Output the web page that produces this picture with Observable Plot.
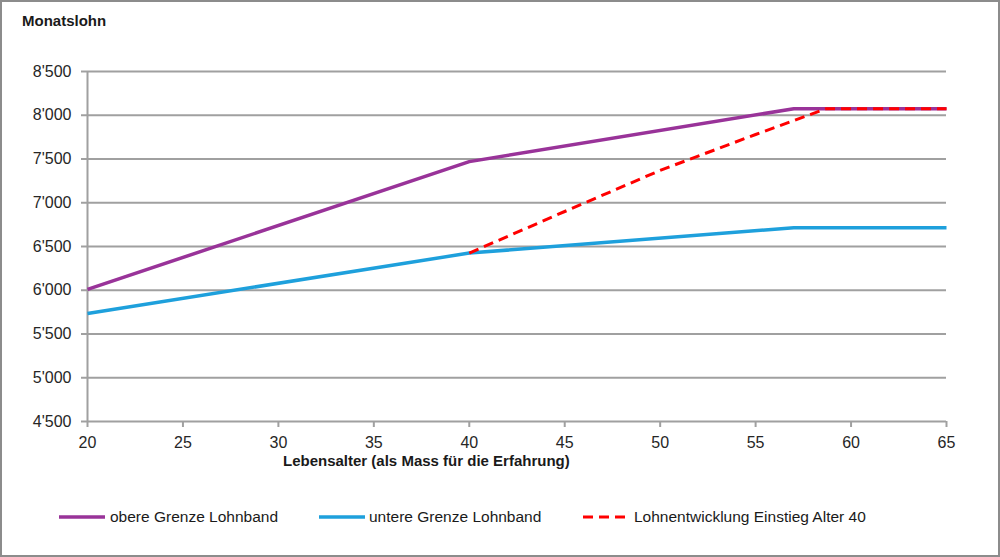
<!DOCTYPE html>
<html><head><meta charset="utf-8">
<script src="https://cdn.jsdelivr.net/npm/d3@7"></script>
<script src="https://cdn.jsdelivr.net/npm/@observablehq/plot@0.6"></script>
<style>
body{margin:0;background:#fff;}
#wrap{position:relative;width:1000px;height:557px;overflow:hidden;font-family:"Liberation Sans",Arial,sans-serif;color:#1a1a1a;background:#fff;}
#chart{position:absolute;left:0;top:0;}
#frame{position:absolute;left:0;top:0;width:1000px;height:557px;box-sizing:border-box;border:2px solid #8c8c8c;pointer-events:none;}
.title{position:absolute;left:22px;top:13px;font-size:15px;line-height:15px;font-weight:bold;white-space:nowrap;}
.xlabel{position:absolute;left:283px;top:453px;font-size:15px;line-height:15px;font-weight:bold;white-space:nowrap;}
.leg{position:absolute;top:507px;height:20px;display:flex;align-items:center;font-size:15.5px;white-space:nowrap;}
.leg svg{display:block;}
</style></head>
<body>
<div id="wrap">
  <div id="chart"></div>
  <div class="title">Monatslohn</div>
  <div class="xlabel">Lebensalter (als Mass für die Erfahrung)</div>
  <div id="legend"></div>
  <div id="frame"></div>
</div>
<script>
// Data
const xTicks = [20, 25, 30, 35, 40, 45, 50, 55, 60, 65];
const yTicks = [4500, 5000, 5500, 6000, 6500, 7000, 7500, 8000, 8500];

const seriesNames = ["obere Grenze Lohnband", "untere Grenze Lohnband", "Lohnentwicklung Einstieg Alter 40"];
const seriesColors = ["#993399", "#1ea0dc", "#ff0000"];

const upperAge  = [20, 40, 57, 65];
const upperWage = [6010, 7470, 8075, 8075];

const lowerAge  = [20, 40, 57, 65];
const lowerWage = [5735, 6425, 6715, 6715];

const entryAge  = [40, 45, 50, 55, 58.7, 65];
const entryWage = [6425, 6900, 7370, 7780, 8075, 8075];

const toRows = (ages, wages) => ages.map((a, i) => ({age: a, wage: wages[i]}));
const upper = toRows(upperAge, upperWage);
const lower = toRows(lowerAge, lowerWage);
const entry = toRows(entryAge, entryWage);

const locale = d3.formatLocale({thousands: "'", grouping: [3], decimal: ".", currency: ["", ""]});
const fmt = locale.format(",");

const grid = "#a0a0a0";

const chart = Plot.plot({
  width: 1000,
  height: 557,
  marginLeft: 87,
  marginRight: 54,
  marginTop: 71,
  marginBottom: 136,
  style: {fontFamily: "'Liberation Sans', Arial, sans-serif", background: "transparent", color: "#262626"},
  x: {domain: [20, 65]},
  y: {domain: [4500, 8500]},
  marks: [
    Plot.ruleY(yTicks, {stroke: grid, strokeWidth: 2}),
    Plot.ruleX([20], {stroke: grid, strokeWidth: 2}),
    Plot.axisY({ticks: yTicks, tickSize: 6, tickPadding: 10, tickFormat: fmt, fontSize: 16, stroke: grid, strokeWidth: 2, fill: "#262626", label: null}),
    Plot.axisX({ticks: xTicks, tickSize: 6, tickPadding: 9, tickFormat: d => String(d), fontSize: 16, stroke: grid, strokeWidth: 2, fill: "#262626", label: null}),
    Plot.line(upper, {x: "age", y: "wage", stroke: seriesColors[0], strokeWidth: 3.5, strokeLinecap: "butt", strokeLinejoin: "round"}),
    Plot.line(lower, {x: "age", y: "wage", stroke: seriesColors[1], strokeWidth: 3.5, strokeLinecap: "butt", strokeLinejoin: "round"}),
    Plot.line(entry, {x: "age", y: "wage", stroke: seriesColors[2], strokeWidth: 3, strokeDasharray: "10,6", strokeLinecap: "butt", strokeLinejoin: "round"})
  ]
});
document.getElementById("chart").appendChild(chart);

// Legend
const legendPos = [
  {left: 59, sw: 46, gap: 5, dash: null, w: 3.5},
  {left: 319, sw: 46, gap: 4, dash: null, w: 3.5},
  {left: 583, sw: 42, gap: 9, dash: "10,6", w: 3}
];
const legend = document.getElementById("legend");
seriesNames.forEach((name, i) => {
  const p = legendPos[i];
  const item = document.createElement("div");
  item.className = "leg";
  item.style.left = p.left + "px";
  item.innerHTML = `<svg width="${p.sw}" height="8"><line x1="0" x2="${p.sw}" y1="4" y2="4" stroke="${seriesColors[i]}" stroke-width="${p.w}" ${p.dash ? `stroke-dasharray="${p.dash}"` : ""}/></svg><span style="margin-left:${p.gap}px">${name}</span>`;
  legend.appendChild(item);
});
</script>
</body></html>
